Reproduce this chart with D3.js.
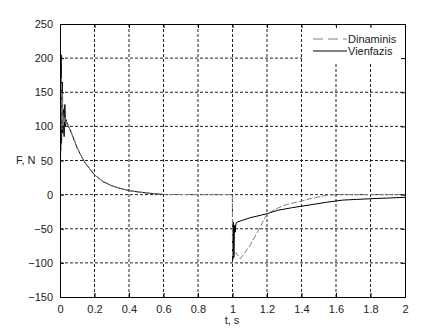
<!DOCTYPE html>
<html lang="en">
<head>
<meta charset="UTF-8">
<title>F(t)</title>
<script src="https://d3js.org/d3.v7.min.js"></script>
<style>
  body { margin: 0; background: #fff; }
  svg text { font-family: Arial, "Liberation Sans", sans-serif; font-size: 11px; fill: #222; }
  .grid line { stroke: #222; stroke-width: 1; stroke-dasharray: 3,2; }
</style>
</head>
<body>
<svg id="chart" width="441" height="331"></svg>
<script>
// x ticks and y ticks
const xTicks = [0, 0.2, 0.4, 0.6, 0.8, 1, 1.2, 1.4, 1.6, 1.8, 2];
const yTicks = [-150, -100, -50, 0, 50, 100, 150, 200, 250];

// Dinaminis (grey dashed)
const dinT = [0.004, 0.009, 0.012, 0.015, 0.018, 0.022, 0.026, 0.03, 0.034, 0.038, 0.042, 0.05, 0.07, 0.1, 0.137, 0.15, 0.2, 0.25, 0.3, 0.35, 0.4, 0.45, 0.5, 0.55, 0.6, 0.8, 0.999,
              1.0, 1.02, 1.045, 1.1, 1.16, 1.2, 1.26, 1.32, 1.39, 1.45, 1.545, 1.6, 1.8, 2];
const dinV = [60, 170, 95, 150, 100, 115, 105, 112, 104, 108, 103, 100, 88, 68, 50, 45, 29, 19, 13, 9, 6, 4, 2.5, 1.2, 0.3, 0, 0,
              -90, -85, -94, -75, -48, -28, -20, -14, -10, -6, -1, 0, 0, 0];

// Vienfazis (black solid)
const vieT = [0.005, 0.0065, 0.009, 0.013, 0.016, 0.02, 0.024, 0.028, 0.032, 0.036, 0.04, 0.05, 0.07, 0.1, 0.137, 0.15, 0.2, 0.25, 0.3, 0.35, 0.4, 0.45, 0.5, 0.55, 0.6,
              1.0, 1.002, 1.005, 1.008, 1.012, 1.016, 1.02, 1.03, 1.1, 1.2, 1.26, 1.35, 1.45, 1.55, 1.64, 1.72, 1.8, 1.9, 2];
const vieV = [65, 205, 75, 165, 90, 125, 85, 132, 100, 110, 105, 100, 88, 68, 50, 45, 29, 19, 13, 9, 6, 4, 2.5, 1.2, 0.3,
              -60, -95, -40, -92, -45, -55, -42, -40, -34, -28, -23, -19, -15, -11, -8, -7, -6, -5, -4];

const svg = d3.select("#chart");
const m = { left: 60, right: 405, top: 24, bottom: 297 };

const x = d3.scaleLinear().domain([0, 2]).range([m.left, m.right]);
const y = d3.scaleLinear().domain([-150, 250]).range([m.bottom, m.top]);

// grid
const grid = svg.append("g").attr("class", "grid");
grid.selectAll(".vx").data(xTicks.slice(1, -1)).enter().append("line")
  .attr("x1", d => x(d)).attr("x2", d => x(d))
  .attr("y1", m.top).attr("y2", m.bottom);
grid.selectAll(".hy").data(yTicks.slice(1, -1)).enter().append("line")
  .attr("x1", m.left).attr("x2", m.right)
  .attr("y1", d => y(d)).attr("y2", d => y(d));

// curves
const line = d3.line().x(d => x(d[0])).y(d => y(d[1]));
const plot = svg.append("g");

plot.append("path").datum(d3.zip(vieT, vieV).slice(0, 25))
  .attr("d", line).attr("fill", "none").attr("stroke", "#000").attr("stroke-width", 1);
plot.append("path").datum(d3.zip(vieT, vieV).slice(25))
  .attr("d", line).attr("fill", "none").attr("stroke", "#000").attr("stroke-width", 1);
plot.append("path").datum(d3.zip(dinT, dinV))
  .attr("d", line).attr("fill", "none").attr("stroke", "#808080").attr("stroke-width", 1)
  .attr("stroke-dasharray", "6,2");

// legend
const lg = svg.append("g");
lg.append("rect").attr("x", 302).attr("y", m.top + 2).attr("width", m.right - 302 - 1).attr("height", 36).attr("fill", "#fff");
lg.append("line").attr("x1", 313).attr("x2", 347).attr("y1", 39).attr("y2", 39)
  .attr("stroke", "#808080").attr("stroke-dasharray", "10,5");
lg.append("line").attr("x1", 313).attr("x2", 347).attr("y1", 51).attr("y2", 51).attr("stroke", "#000");
lg.append("text").attr("x", 348).attr("y", 43).text("Dinaminis");
lg.append("text").attr("x", 348).attr("y", 55).text("Vienfazis");

// axes, ticks inward on all sides
const tl = 4;
svg.append("g").attr("transform", `translate(0,${m.bottom})`)
  .call(d3.axisBottom(x).tickValues(xTicks).tickSize(-tl).tickPadding(8).tickFormat(d3.format("")));
svg.append("g").attr("transform", `translate(0,${m.top})`)
  .call(d3.axisTop(x).tickValues(xTicks).tickSize(-tl).tickFormat(""));
svg.append("g").attr("transform", `translate(${m.left},0)`)
  .call(d3.axisLeft(y).tickValues(yTicks).tickSize(-tl).tickPadding(7));
svg.append("g").attr("transform", `translate(${m.right},0)`)
  .call(d3.axisRight(y).tickValues(yTicks).tickSize(-tl).tickFormat(""));
svg.selectAll(".domain").attr("stroke", "#000");
svg.selectAll(".tick line").attr("stroke", "#000");
svg.selectAll(".tick text").style("font-family", "Arial, 'Liberation Sans', sans-serif").style("font-size", "11px").attr("fill", "#222");

// axis labels
svg.append("text").attr("x", 16).attr("y", 164).text("F, N");
svg.append("text").attr("x", 232).attr("y", 324).attr("text-anchor", "middle").text("t, s");
</script>
</body>
</html>
